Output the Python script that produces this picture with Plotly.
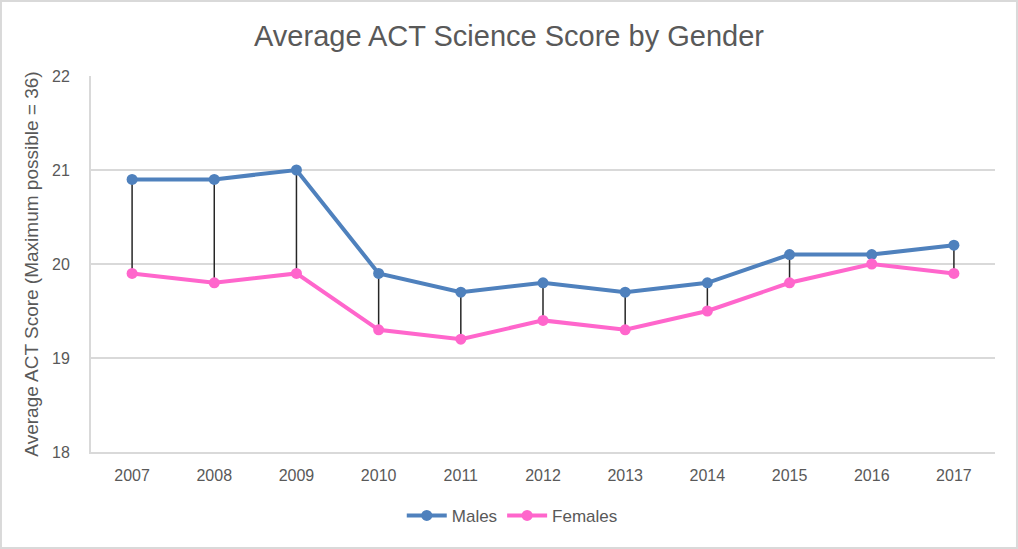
import plotly.graph_objects as go

years = ['2007', '2008', '2009', '2010', '2011', '2012', '2013', '2014', '2015', '2016', '2017']
males = [20.9, 20.9, 21.0, 19.9, 19.7, 19.8, 19.7, 19.8, 20.1, 20.1, 20.2]
females = [19.9, 19.8, 19.9, 19.3, 19.2, 19.4, 19.3, 19.5, 19.8, 20.0, 19.9]

font_family = "Liberation Sans, Arial, sans-serif"
grey_text = '#595959'
grid = '#d9d9d9'

# high-low lines between the two series
drop_x, drop_y = [], []
for yr, m, f in zip(years, males, females):
    drop_x += [yr, yr, None]
    drop_y += [m, f, None]

fig = go.Figure()
fig.add_trace(go.Scatter(x=drop_x, y=drop_y, mode='lines',
                         line=dict(color='#262626', width=1.5),
                         showlegend=False, hoverinfo='skip'))
fig.add_trace(go.Scatter(x=years, y=males, name='Males', mode='lines+markers',
                         line=dict(color='#4F81BD', width=4),
                         marker=dict(size=11, color='#4F81BD')))
fig.add_trace(go.Scatter(x=years, y=females, name='Females', mode='lines+markers',
                         line=dict(color='#FF66CC', width=4),
                         marker=dict(size=11, color='#FF66CC')))

fig.update_layout(
    width=1018, height=549,
    margin=dict(l=91, r=23, t=76, b=97),
    paper_bgcolor='white', plot_bgcolor='white',
    font=dict(family=font_family, color=grey_text, size=16),
    title=dict(text='Average ACT Science Score by Gender', x=0.5, xanchor='center',
               y=0.935, yanchor='middle', font=dict(size=29, color=grey_text)),
    legend=dict(orientation='h', x=0.466, xanchor='center', y=-0.17, yanchor='middle',
                font=dict(size=17, color=grey_text), itemwidth=40),
    shapes=[dict(type='rect', xref='paper', yref='paper',
                 x0=-0.0996, x1=1.0243, y0=-0.255, y1=1.1995,
                 line=dict(color=grid, width=2), fillcolor='rgba(0,0,0,0)', layer='below')],
)
fig.update_xaxes(type='category', range=[-0.5, 10.5], showgrid=False,
                 showline=True, linecolor=grid, linewidth=2,
                 ticks='', ticklabelstandoff=8, tickfont=dict(size=16))
fig.update_yaxes(range=[18, 22], dtick=1, showgrid=True, gridcolor=grid, gridwidth=2,
                 showline=True, linecolor=grid, linewidth=2, zeroline=False,
                 ticks='', ticklabelstandoff=16, tickfont=dict(size=16),
                 title=dict(text='Average ACT Score (Maximum possible = 36)',
                            font=dict(size=19, color=grey_text), standoff=8))

fig.write_html("out.html", config={'displayModeBar': False},
               post_script="document.body.style.margin='0';")
